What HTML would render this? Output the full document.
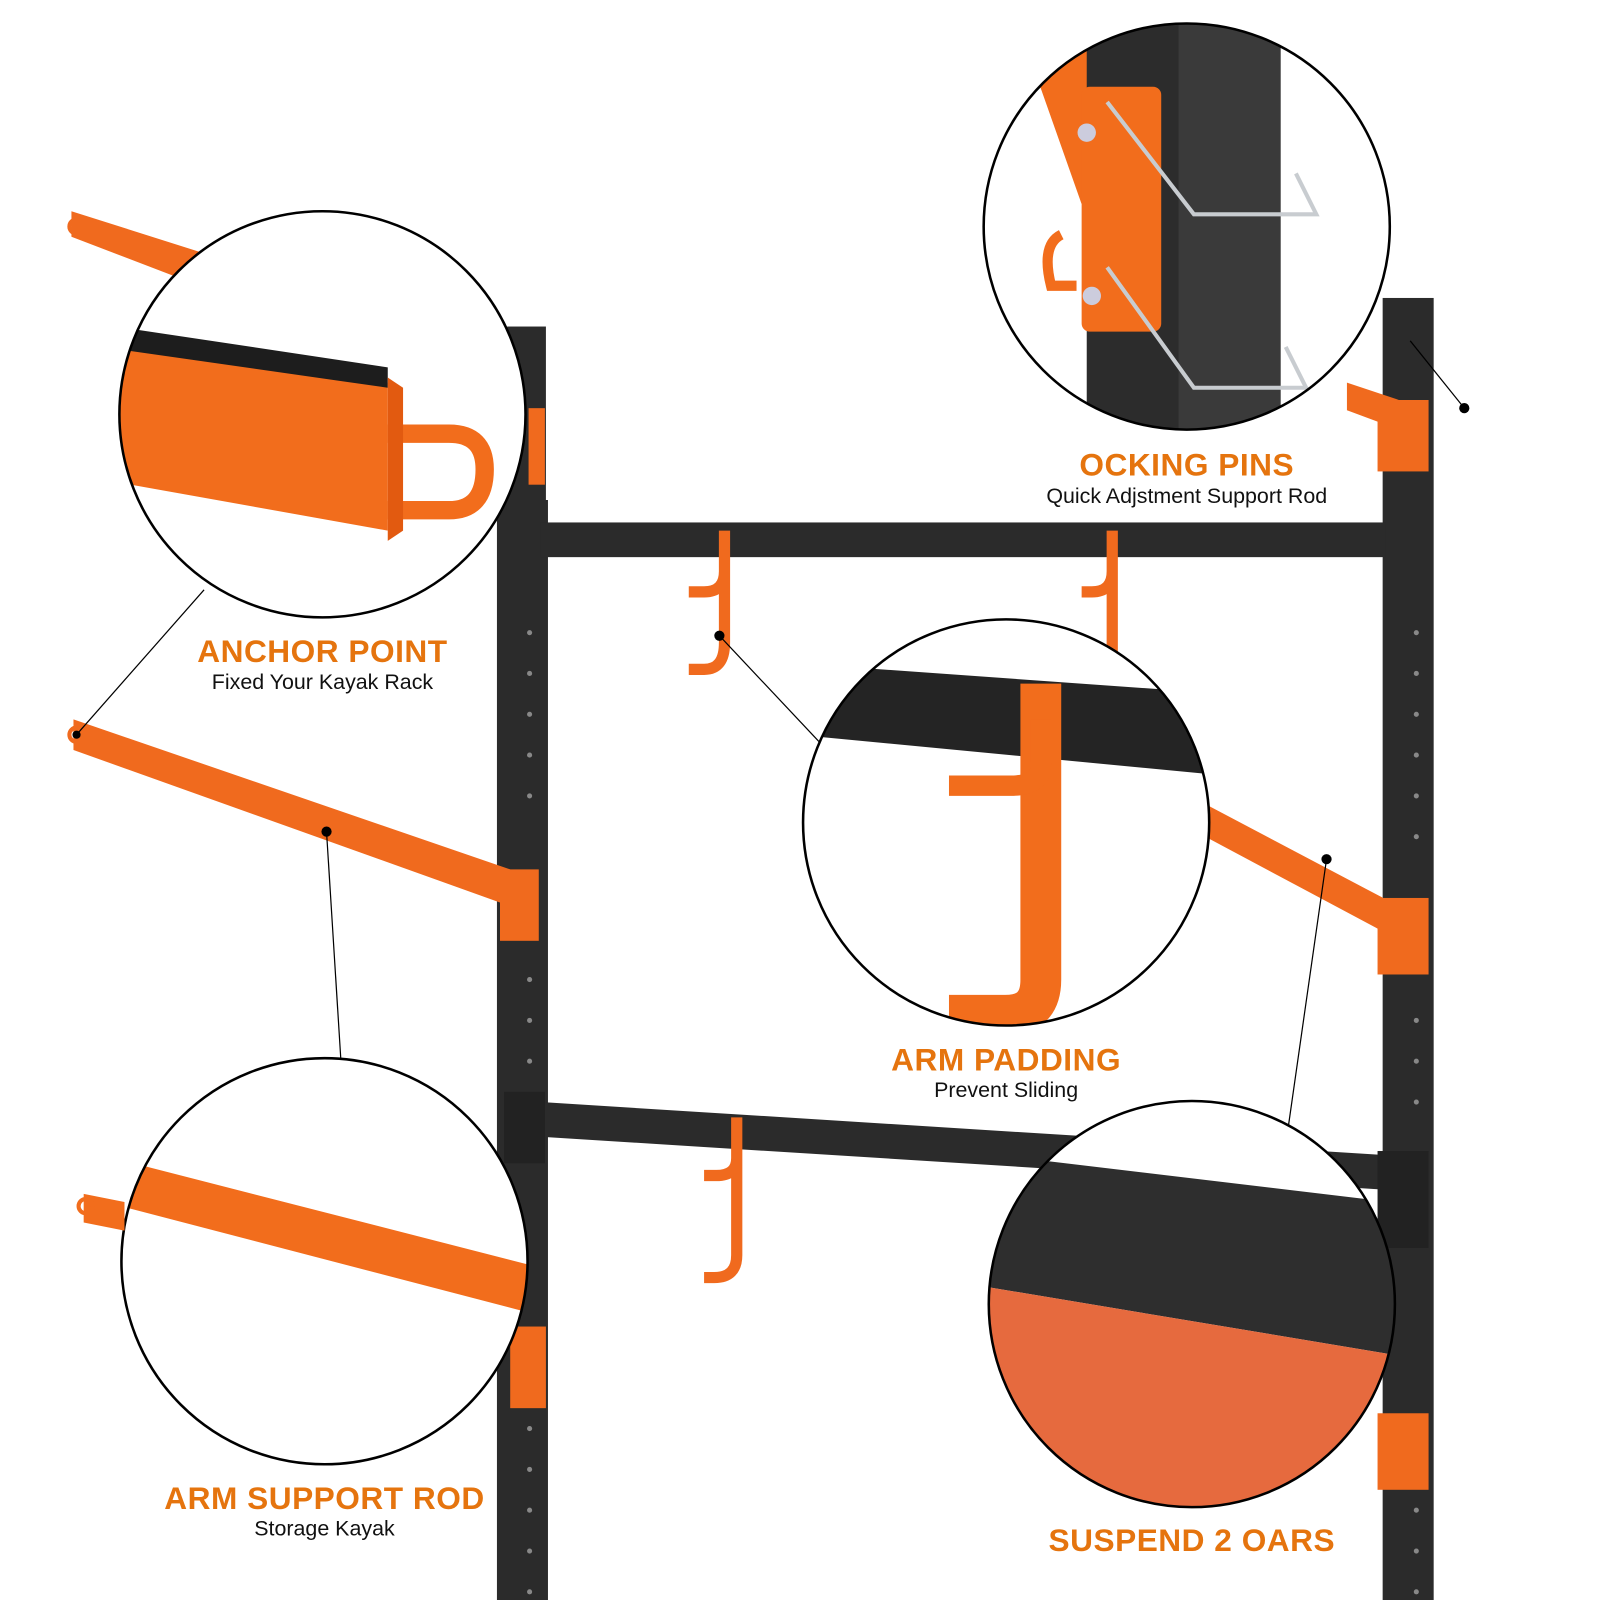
<!DOCTYPE html>
<html><head><style>
body{margin:0;background:#fff}
svg{display:block}
.t{font-family:"Liberation Sans",sans-serif;font-weight:bold;fill:#e5740e;font-size:31px;letter-spacing:0.5px}
.s{font-family:"Liberation Sans",sans-serif;fill:#111;font-size:21px}
</style></head><body>
<svg width="1600" height="1600" viewBox="0 0 1568 1568" xmlns="http://www.w3.org/2000/svg">
<defs>
<clipPath id="c1"><circle cx="316" cy="406" r="199"/></clipPath>
<clipPath id="c2"><circle cx="1163" cy="222" r="199"/></clipPath>
<clipPath id="c3"><circle cx="986" cy="806" r="199"/></clipPath>
<clipPath id="c4"><circle cx="318" cy="1236" r="199"/></clipPath>
<clipPath id="c5"><circle cx="1168" cy="1278" r="199"/></clipPath>
</defs>
<rect x="497" y="320" width="38" height="1280" fill="#2b2b2b"/>
<rect x="487" y="490" width="50" height="1110" fill="#2b2b2b"/>
<rect x="1355" y="292" width="50" height="1308" fill="#2b2b2b"/>
<g fill="#888">
<circle cx="519" cy="620" r="2.5"/><circle cx="519" cy="660" r="2.5"/><circle cx="519" cy="700" r="2.5"/><circle cx="519" cy="740" r="2.5"/><circle cx="519" cy="780" r="2.5"/><circle cx="519" cy="960" r="2.5"/><circle cx="519" cy="1000" r="2.5"/><circle cx="519" cy="1040" r="2.5"/><circle cx="519" cy="1400" r="2.5"/><circle cx="519" cy="1440" r="2.5"/><circle cx="519" cy="1480" r="2.5"/><circle cx="519" cy="1520" r="2.5"/><circle cx="519" cy="1560" r="2.5"/>
<circle cx="1388" cy="620" r="2.5"/><circle cx="1388" cy="660" r="2.5"/><circle cx="1388" cy="700" r="2.5"/><circle cx="1388" cy="740" r="2.5"/><circle cx="1388" cy="780" r="2.5"/><circle cx="1388" cy="820" r="2.5"/><circle cx="1388" cy="1000" r="2.5"/><circle cx="1388" cy="1040" r="2.5"/><circle cx="1388" cy="1080" r="2.5"/><circle cx="1388" cy="1480" r="2.5"/><circle cx="1388" cy="1520" r="2.5"/><circle cx="1388" cy="1560" r="2.5"/>
</g>
<rect x="530" y="512" width="828" height="34" fill="#2b2b2b"/>
<polygon points="530,1080 1358,1132 1358,1166 530,1114" fill="#2b2b2b"/>
<rect x="494" y="1070" width="40" height="70" fill="#222"/>
<rect x="1350" y="1128" width="50" height="95" fill="#222"/>
<g fill="none" stroke="#f06a1e" stroke-width="11">
<path d="M710 520 V560 Q710 580 690 580 H675 M710 560 V630 Q710 656 690 656 H675"/>
<path d="M1090 520 V560 Q1090 580 1070 580 H1060 M1090 560 V650"/>
<path d="M722 1095 V1135 Q722 1152 702 1152 H690 M722 1135 V1230 Q722 1252 700 1252 H690"/>
</g>
<polygon points="70,207 196,247 190,278 70,232" fill="#f06a1e"/>
<polygon points="72,705 500,852 500,888 72,735" fill="#f06a1e"/>
<rect x="490" y="852" width="38" height="70" fill="#f06a1e"/>
<polygon points="1185,790 1365,885 1365,918 1185,822" fill="#f06a1e"/>
<rect x="1350" y="880" width="50" height="75" fill="#f06a1e"/>
<polygon points="1320,375 1395,400 1395,430 1320,402" fill="#f06a1e"/>
<rect x="1350" y="392" width="50" height="70" fill="#f06a1e"/>
<rect x="518" y="400" width="16" height="75" fill="#f06a1e"/>
<rect x="500" y="1300" width="35" height="80" fill="#f06a1e"/>
<rect x="1350" y="1385" width="50" height="75" fill="#f06a1e"/>
<circle cx="75" cy="222" r="7" fill="none" stroke="#f06a1e" stroke-width="4"/>
<circle cx="75" cy="720" r="7" fill="none" stroke="#f06a1e" stroke-width="4"/>
<g stroke="#000" stroke-width="1.2">
<line x1="75" y1="720" x2="200" y2="578"/>
<line x1="320" y1="815" x2="334" y2="1038"/>
<line x1="705" y1="623" x2="815" y2="740"/>
<line x1="1300" y1="842" x2="1262" y2="1108"/>
<line x1="1435" y1="400" x2="1382" y2="334"/>
</g>
<g fill="#000"><circle cx="75" cy="720" r="4"/><circle cx="320" cy="815" r="5"/><circle cx="705" cy="623" r="5"/><circle cx="1300" cy="842" r="5"/><circle cx="1435" cy="400" r="5"/></g>
<circle cx="316" cy="406" r="199" fill="#fff"/>
<g clip-path="url(#c1)">
<polygon points="100,335 380,375 380,520 100,470" fill="#f26d1c"/>
<polygon points="100,318 380,360 380,380 100,340" fill="#1d1d1d"/>
<path d="M380 425 H440 Q475 425 475 460 Q475 500 440 500 H380" fill="none" stroke="#f26d1c" stroke-width="18"/>
<polygon points="380,370 395,380 395,520 380,530" fill="#e25a10"/>
</g>
<circle cx="316" cy="406" r="199" fill="none" stroke="#000" stroke-width="2.5"/>
<circle cx="1163" cy="222" r="199" fill="#fff"/>
<g clip-path="url(#c2)">
<polygon points="1000,30 1070,30 1110,100 1060,200" fill="#f26d1c"/>
<rect x="1065" y="20" width="190" height="420" fill="#2c2c2c"/>
<rect x="1155" y="20" width="100" height="420" fill="#3a3a3a"/>
<rect x="1060" y="85" width="78" height="240" rx="8" fill="#f26d1c"/>
<path d="M1040 230 Q1020 240 1030 280 L1055 280" fill="none" stroke="#f26d1c" stroke-width="10"/>
<g fill="none" stroke="#c8ccd0" stroke-width="4">
<path d="M1085 100 L1170 210 H1290 L1270 170"/>
<path d="M1085 262 L1170 380 H1280 L1260 340"/>
</g>
<circle cx="1065" cy="130" r="9" fill="#ccd"/><circle cx="1070" cy="290" r="9" fill="#ccd"/>
</g>
<circle cx="1163" cy="222" r="199" fill="none" stroke="#000" stroke-width="2.5"/>
<circle cx="986" cy="806" r="199" fill="#fff"/>
<g clip-path="url(#c3)">
<polygon points="780,650 1200,680 1200,760 780,720" fill="#242424"/>
<path d="M1020 670 V960 Q1020 995 985 995 H930" fill="none" stroke="#f26d1c" stroke-width="40"/>
<path d="M1020 705 V750 Q1020 770 990 770 H930" fill="none" stroke="#f26d1c" stroke-width="20"/>
</g>
<circle cx="986" cy="806" r="199" fill="none" stroke="#000" stroke-width="2.5"/>
<circle cx="318" cy="1236" r="199" fill="#fff"/>
<g clip-path="url(#c4)">
<polygon points="80,1127 540,1245 540,1292 80,1172" fill="#f26d1c"/>
</g>
<circle cx="318" cy="1236" r="199" fill="none" stroke="#000" stroke-width="2.5"/>
<polygon points="82,1170 122,1178 122,1206 82,1198" fill="#f26d1c"/>
<circle cx="84" cy="1182" r="7" fill="none" stroke="#f26d1c" stroke-width="4"/>
<circle cx="1168" cy="1278" r="199" fill="#fff"/>
<g clip-path="url(#c5)">
<polygon points="960,1130 1380,1180 1380,1330 960,1260" fill="#2e2e2e"/>
<polygon points="960,1260 1380,1330 1380,1490 960,1490" fill="#e66a3e"/>
</g>
<circle cx="1168" cy="1278" r="199" fill="none" stroke="#000" stroke-width="2.5"/>
<g text-anchor="middle">
<text class="t" x="316" y="649">ANCHOR POINT</text>
<text class="s" x="316" y="675">Fixed Your Kayak Rack</text>
<text class="t" x="1163" y="466">OCKING PINS</text>
<text class="s" x="1163" y="493">Quick Adjstment Support Rod</text>
<text class="t" x="986" y="1049">ARM PADDING</text>
<text class="s" x="986" y="1075">Prevent Sliding</text>
<text class="t" x="318" y="1479">ARM SUPPORT ROD</text>
<text class="s" x="318" y="1505">Storage Kayak</text>
<text class="t" x="1168" y="1520">SUSPEND 2 OARS</text>
</g>
</svg>
</body></html>
